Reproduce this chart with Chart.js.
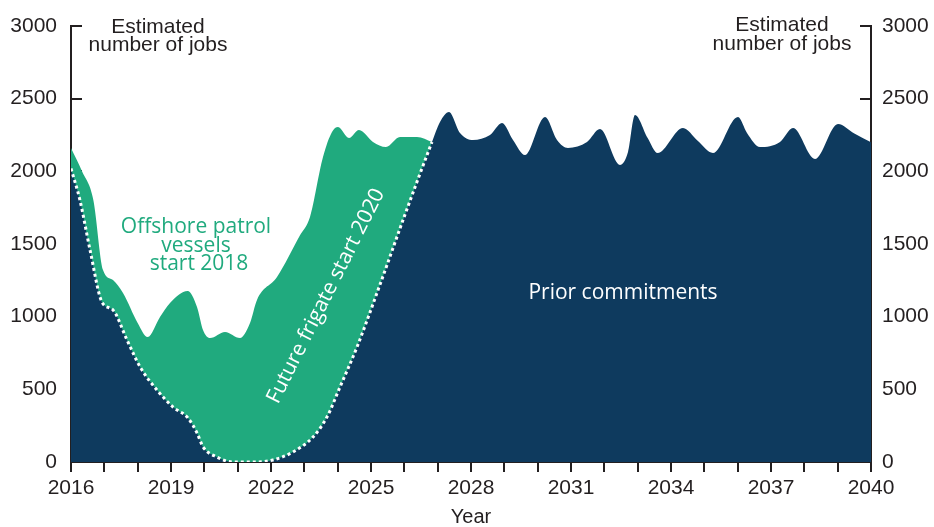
<!DOCTYPE html>
<html lang="en">
<head>
  <meta charset="UTF-8">
  <title>Estimated number of jobs</title>
  <script src="https://cdn.jsdelivr.net/npm/chart.js"></script>
  <style>
    html, body { margin: 0; padding: 0; background: #fff; }
    .chart-container { width: 934px; height: 527px; }
    canvas { display: block; }
  </style>
</head>
<body>

  <div class="chart-container">
    <canvas id="jobsChart" width="934" height="527"></canvas>
  </div>

  <script>
    // Prior commitments (lower area, dark blue)
    const priorYears = [2016.0, 2016.27, 2016.57, 2016.93, 2017.26, 2017.68, 2018.07, 2018.58, 2019.06, 2019.51,
      2019.78, 2019.96, 2020.38, 2020.86, 2021.5, 2022.06, 2022.66, 2023.26, 2023.68, 2024.07,
      2024.58, 2025.3, 2026.0, 2026.83, 2027.07, 2027.34, 2027.67, 2028.06, 2028.57, 2028.93,
      2029.26, 2029.62, 2030.22, 2030.58, 2030.91, 2031.48, 2031.87, 2032.47, 2032.71, 2032.92,
      2033.3, 2033.6, 2034.36, 2034.8, 2035.26, 2036.01, 2036.28, 2036.67, 2037.27, 2037.66,
      2038.32, 2039.01, 2039.5, 2040.0];
    const priorJobs = [2020, 1800, 1460, 1100, 1046, 840, 655, 495, 378, 303,
      200, 105, 34, 0, 0, 14, 69, 172, 310, 516,
      791, 1240, 1690, 2202, 2340, 2408, 2264, 2216, 2250, 2333,
      2216, 2112, 2374, 2216, 2161, 2202, 2291, 2044, 2133, 2388,
      2230, 2126, 2298, 2210, 2126, 2374, 2264, 2167, 2202, 2298,
      2085, 2326, 2260, 2200];

    // Total incl. offshore patrol vessels and future frigate (green area)
    const totalYears = [2016.0, 2016.33, 2016.67, 2016.96, 2017.26, 2017.56, 2018.0, 2018.3, 2018.67, 2018.97,
      2019.5, 2019.78, 2019.96, 2020.17, 2020.62, 2021.07, 2021.37, 2021.58, 2022.18, 2022.87,
      2023.17, 2023.56, 2023.83, 2024.01, 2024.34, 2024.64, 2025.06, 2025.45, 2025.87, 2026.38,
      2026.83];
    const totalJobs = [2160, 2000, 1803, 1321, 1252, 1163, 957, 860, 998, 1094,
      1177, 1067, 908, 853, 895, 853, 956, 1115, 1273, 1560,
      1686, 2099, 2271, 2305, 2229, 2284, 2202, 2167, 2236, 2236,
      2202];

    const frigateEnd = 2026.83;
    const yTicks = [0, 500, 1000, 1500, 2000, 2500, 3000];

    const navy = '#0e3a5e';
    const green = '#20aa7e';
    const ink = '#231f20';

    const toPoints = (xs, ys) => xs.map((x, i) => ({ x: x, y: ys[i] }));

    const labelsPlugin = {
      id: 'labels',
      afterDatasetsDraw(chart) {
        const ctx = chart.ctx;
        ctx.save();
        ctx.textAlign = 'center';
        ctx.textBaseline = 'middle';

        ctx.fillStyle = ink;
        ctx.font = '21px "Liberation Sans", Arial, sans-serif';
        ctx.fillText('Estimated', 158, 27);
        ctx.fillText('number of jobs', 158, 45);
        ctx.fillText('Estimated', 782, 25);
        ctx.fillText('number of jobs', 782, 44);

        ctx.font = '21px "Open Sans", sans-serif';
        ctx.fillStyle = green;
        ctx.fillText('Offshore patrol', 196, 227);
        ctx.fillText('vessels', 196, 246);
        ctx.fillText('start 2018', 199, 264);

        ctx.fillStyle = '#fff';
        ctx.fillText('Prior commitments', 623, 293);

        ctx.translate(326, 296);
        ctx.rotate(-63.3 * Math.PI / 180);
        ctx.fillText('Future frigate start 2020', 0, 0);
        ctx.restore();
      }
    };

    const axisFont = { family: '"Liberation Sans", Arial, sans-serif', size: 21 };

    // vertical scales: fixed width, no extra label padding above/below
    const fitY = w => s => { s.width = w; s.paddingTop = 0; s.paddingBottom = 0; };

    new Chart(document.getElementById('jobsChart').getContext('2d'), {
      type: 'line',
      data: {
        datasets: [
          {
            label: 'Prior commitments',
            data: toPoints(priorYears, priorJobs),
            backgroundColor: navy,
            fill: 'origin',
            order: 0,
            pointRadius: 0,
            borderWidth: 3,
            borderDash: [3, 3],
            cubicInterpolationMode: 'monotone',
            segment: {
              borderColor: c => c.p1.parsed.x <= frigateEnd + 0.001 ? '#fff' : 'rgba(0,0,0,0)'
            }
          },
          {
            label: 'Total',
            data: toPoints(totalYears, totalJobs),
            backgroundColor: green,
            borderColor: 'rgba(0,0,0,0)',
            borderWidth: 0,
            fill: 'origin',
            order: 1,
            pointRadius: 0,
            cubicInterpolationMode: 'monotone'
          }
        ]
      },
      options: {
        responsive: false,
        animation: false,
        layout: { padding: { top: 26, left: 0, right: 0, bottom: 0 } },
        plugins: {
          legend: { display: false },
          tooltip: { enabled: false }
        },
        scales: {
          x: {
            type: 'linear',
            min: 2016,
            max: 2040,
            afterFit: s => { s.height = 65; },
            border: { color: ink, width: 2 },
            grid: { drawOnChartArea: false, tickLength: 10, color: ink, lineWidth: 2 },
            ticks: {
              stepSize: 1,
              autoSkip: false,
              maxRotation: 0,
              padding: 4,
              color: ink,
              font: axisFont,
              callback: v => ((v - 2016) % 3 === 0 ? String(v) : '')
            },
            title: {
              display: true,
              text: 'Year',
              color: ink,
              font: { family: axisFont.family, size: 20, lineHeight: 1 },
              padding: 0
            }
          },
          y: {
            position: 'left',
            min: 0,
            max: 3000,
            afterFit: fitY(71),
            afterBuildTicks: s => { s.ticks = yTicks.map(v => ({ value: v })); },
            border: { color: ink, width: 2 },
            grid: { drawOnChartArea: false, tickLength: -11, color: ink, lineWidth: 2 },
            ticks: { autoSkip: false, padding: 25, color: ink, font: axisFont, callback: v => String(v) }
          },
          y2: {
            position: 'right',
            min: 0,
            max: 3000,
            afterFit: fitY(63),
            afterBuildTicks: s => { s.ticks = yTicks.map(v => ({ value: v })); },
            border: { color: ink, width: 2 },
            grid: { drawOnChartArea: false, tickLength: -11, color: ink, lineWidth: 2 },
            ticks: { autoSkip: false, padding: 22, color: ink, font: axisFont, callback: v => String(v) }
          }
        }
      },
      plugins: [labelsPlugin]
    });
  </script>

</body>
</html>
